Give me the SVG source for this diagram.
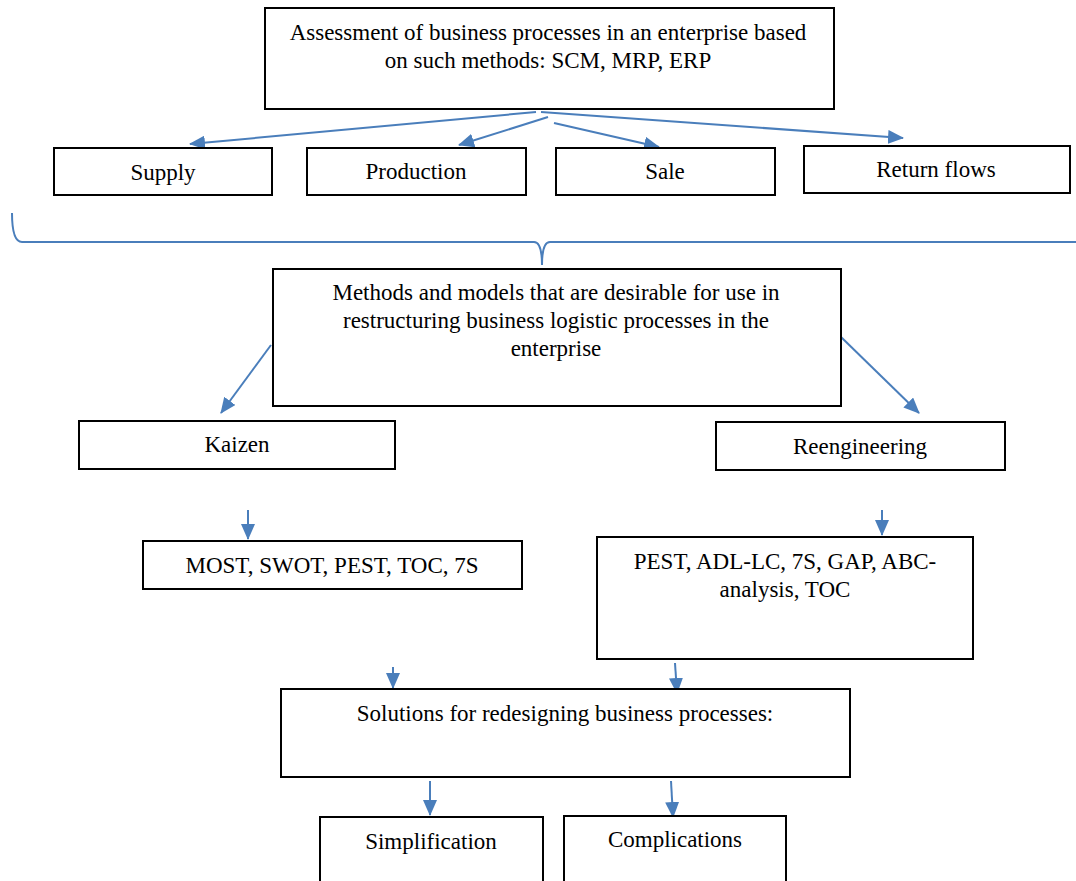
<svg xmlns="http://www.w3.org/2000/svg" width="1076" height="881" viewBox="0 0 1076 881">
<style>
.box{fill:#fff;stroke:#000;stroke-width:2}
.t{font-family:"Liberation Serif","Times New Roman",serif;font-size:23px;fill:#000;text-anchor:middle}
.c{stroke:#4a7ebb;stroke-width:2;fill:none}
</style>
<defs>
<marker id="ah" markerUnits="userSpaceOnUse" markerWidth="16" markerHeight="14" refX="15" refY="7" orient="auto">
<path d="M0,0 L16,7 L0,14 Z" fill="#4a7ebb"/>
</marker>
</defs>
<rect width="1076" height="881" fill="#fff"/>
<g id="connectors">
<line class="c" x1="536" y1="112" x2="190" y2="144" marker-end="url(#ah)"/>
<line class="c" x1="548" y1="117" x2="459" y2="145" marker-end="url(#ah)"/>
<line class="c" x1="554" y1="123" x2="659" y2="147" marker-end="url(#ah)"/>
<line class="c" x1="541" y1="112" x2="903" y2="138" marker-end="url(#ah)"/>
<path class="c" d="M12,213 Q12,242 22,242 L534,242 Q542,242 542,265 M542,265 Q542,242 550,242 L1076,242"/>
<line class="c" x1="271" y1="345" x2="221" y2="413" marker-end="url(#ah)"/>
<line class="c" x1="841" y1="337" x2="919" y2="413" marker-end="url(#ah)"/>
<line class="c" x1="248" y1="510" x2="248" y2="539" marker-end="url(#ah)"/>
<line class="c" x1="882" y1="510" x2="882" y2="535" marker-end="url(#ah)"/>
<line class="c" x1="393" y1="667" x2="393" y2="688" marker-end="url(#ah)"/>
<line class="c" x1="675" y1="663" x2="677" y2="693" marker-end="url(#ah)"/>
<line class="c" x1="430" y1="781" x2="430" y2="815" marker-end="url(#ah)"/>
<line class="c" x1="671" y1="781" x2="673" y2="817" marker-end="url(#ah)"/>
</g>
<g id="assessment">
<rect class="box" x="265" y="8" width="569" height="101"/>
<text class="t" x="548" y="40">Assessment of business processes in an enterprise based</text>
<text class="t" x="548" y="68">on such methods: SCM, MRP, ERP</text>
</g>
<g id="supply">
<rect class="box" x="54" y="148" width="218" height="47"/>
<text class="t" x="163" y="180">Supply</text>
</g>
<g id="production">
<rect class="box" x="307" y="148" width="219" height="47"/>
<text class="t" x="416" y="179">Production</text>
</g>
<g id="sale">
<rect class="box" x="556" y="148" width="219" height="47"/>
<text class="t" x="665" y="179">Sale</text>
</g>
<g id="return">
<rect class="box" x="804" y="146" width="266" height="47"/>
<text class="t" x="936" y="177">Return flows</text>
</g>
<g id="methods">
<rect class="box" x="273" y="269" width="568" height="137"/>
<text class="t" x="556" y="300">Methods and models that are desirable for use in</text>
<text class="t" x="556" y="328">restructuring business logistic processes in the</text>
<text class="t" x="556" y="356">enterprise</text>
</g>
<g id="kaizen">
<rect class="box" x="79" y="421" width="316" height="48"/>
<text class="t" x="237" y="452">Kaizen</text>
</g>
<g id="reengineering">
<rect class="box" x="716" y="422" width="289" height="48"/>
<text class="t" x="860" y="454">Reengineering</text>
</g>
<g id="most">
<rect class="box" x="143" y="541" width="379" height="48"/>
<text class="t" x="332" y="573">MOST, SWOT, PEST, TOC, 7S</text>
</g>
<g id="pest">
<rect class="box" x="597" y="537" width="376" height="122"/>
<text class="t" x="785" y="569">PEST, ADL-LC, 7S, GAP, ABC-</text>
<text class="t" x="785" y="597">analysis, TOC</text>
</g>
<g id="solutions">
<rect class="box" x="281" y="689" width="569" height="88"/>
<text class="t" x="565" y="721">Solutions for redesigning business processes:</text>
</g>
<g id="simplification">
<rect class="box" x="320" y="817" width="223" height="80"/>
<text class="t" x="431" y="849">Simplification</text>
</g>
<g id="complications">
<rect class="box" x="564" y="816" width="222" height="80"/>
<text class="t" x="675" y="847">Complications</text>
</g>
</svg>
